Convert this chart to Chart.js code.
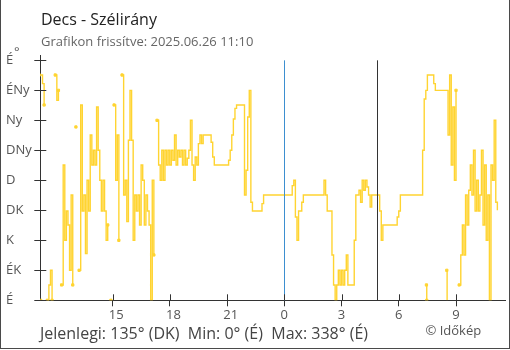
<!DOCTYPE html>
<html>
<head>
<meta charset="utf-8">
<script src="https://cdn.jsdelivr.net/npm/chart.js@4.4.1/dist/chart.umd.min.js"></script>
<style>
  html, body { margin: 0; padding: 0; background: #fff; }
  #wrap { position: relative; width: 510px; height: 350px; overflow: hidden; font-family: "Open Sans", sans-serif; }
  #frame { position: absolute; left: 0; top: 0; width: 508px; height: 348px; border: 1px solid #4a4a4a; border-top: none; }
  canvas { position: absolute; left: 0; top: 0; }
  .t { position: absolute; white-space: pre; line-height: 1; }
</style>
</head>
<body>
<div id="wrap">
  <div id="frame"></div>
  <canvas id="c" width="510" height="350"></canvas>
  <div class="t" style="left:41px; top:10.8px; font-size:16px; color:#222;">Decs - Szélirány</div>
  <div class="t" style="left:41px; top:34.5px; font-size:13px; color:#666;">Grafikon frissítve: 2025.06.26 11:10</div>
  <div class="t" style="left:14px; top:45px; font-size:13px; color:#555;">°</div>
  <div class="t" style="left:40px; top:324.8px; font-size:16px; color:#444;">Jelenlegi: 135° (DK)  Min: 0° (É)  Max: 338° (É)</div>
  <div class="t" style="left:425.5px; top:323.5px; font-size:13px; color:#555;">© Időkép</div>
</div>
<script>
// Wind direction readings (degrees), one every 5 minutes from 2025.06.25 11:10
// (minutes are counted from midnight, so the first reading is at -770).
const startMinute = -770;
const stepMinutes = 5;
const directions = [
  338, 338, 325, 293, null, 0, 23, 45, 0, null,
  338, 300, 315, null, 23, 203, 90, 134, 113, 45,
  158, 23, null, 260, null, 45, 293, 134, 158, 70,
  180, 134, 248, 203, 225, 203, 290, 225, 180, 134,
  180, 134, 90, 113, null, 0, null, 293, 180, 248,
  90, null, 338, 158, 180, 118, 240, 315, 240, 90,
  158, 134, 158, 113, 203, 180, 113, 158, 134, 113,
  0, 180, 68, null, 270, 203, 180, 225, 180, 225,
  203, 225, 203, 225, 210, 248, 203, 225, 215, 225,
  203, 225, 203, 213, 225, 270, 203, 180, 215, 203,
  235, 248, 235, 248, 248, 248, 248, 248, 237, 215,
  203, 203, 203, 203, 203, 203, 203, 203, 203, 210,
  225, 248, 272, 288, 293, 293, 293, 293, 293, 158,
  195, 275, 315, 147, 134, 134, 134, 134, 134, 134,
  145, 158, 158, 158, 158, 158, 158, 158, 158, 158,
  158, 158, 158, 158, 158, 158, 158, 158, 158, 172,
  180, 125, 90, 134, 134, 147, 158, 158, 158, 158,
  158, 158, 158, 158, 158, 158, 158, 158, 158, 180,
  158, 134, 134, 134, 68, 23, 0, 23, 45, 23,
  45, 23, 45, 68, 23, 23, 23, 23, 90, 158,
  158, 165, 147, 180, 165, 180, 170, 158, 140, 158,
  158, 158, 158, 158, 134, 90, 113, 113, 113, 113,
  113, 113, 113, 113, 113, 125, 134, 158, 158, 158,
  158, 158, 158, 158, 158, 158, 158, 158, 158, 158,
  158, 225, 302, 315, 338, 338, 338, 338, 325, 315,
  315, 315, 315, 315, 315, 315, 315, 248, 338, 203,
  290, 180, 315, null, 23, 68, 113, 68, 158, 113,
  165, 203, 158, 225, 134, 180, 134, 158, 225, 113,
  203, 90, 158, 0, 203, 180, 270, 147, 135
];

// Short readings just past north, drawn on their own
const northTimes = [-766, -765, 447, 448, 449, 511, 512];
const northDirs  = [0, null, 23, 0, null, 45, 0];

const hourTicks  = [-540, -360, -180, 0, 180, 360, 540];
const hourLabels = ['15', '18', '21', '0', '3', '6', '9'];
const compassTicks  = [0, 45, 90, 135, 180, 225, 270, 315, 360];
const compassLabels = ['É', 'ÉK', 'K', 'DK', 'D', 'DNy', 'Ny', 'ÉNy', 'É'];

const midnightMinute = 0;
const sunriseMinute = 291;

const yellow = '#ffd431';

const mainPoints = directions.map((d, i) => ({ x: startMinute + stepMinutes * i, y: d }));
const northPoints = northDirs.map((d, i) => ({ x: northTimes[i], y: d }));

// squares only where a run of readings starts or stops
function edgeRadius(ctx) {
  const data = ctx.dataset.data;
  const i = ctx.dataIndex;
  if (data[i].y === null) return 0;
  const prev = i > 0 ? data[i - 1].y : null;
  const next = i < data.length - 1 ? data[i + 1].y : 0;
  return (prev === null || next === null) ? 1.6 : 0;
}

const lineStyle = {
  borderColor: yellow,
  backgroundColor: yellow,
  borderWidth: 1.4,
  stepped: true,
  spanGaps: false,
  fill: false,
  pointStyle: 'rect',
  pointRadius: edgeRadius,
  pointBorderWidth: 1,
  pointBackgroundColor: yellow,
  pointBorderColor: yellow
};

const axisFont = { family: '"Open Sans", sans-serif', size: 13 };

const markers = {
  id: 'markers',
  afterDatasetsDraw(chart) {
    const { ctx, chartArea: a, scales: { x, y } } = chart;
    const yTop = y.getPixelForValue(360);
    const yBot = y.getPixelForValue(0);
    ctx.save();
    ctx.lineWidth = 1;
    // midnight
    let px = Math.round(x.getPixelForValue(midnightMinute)) + 0.5;
    ctx.strokeStyle = '#3d8fd0';
    ctx.beginPath(); ctx.moveTo(px, yTop); ctx.lineTo(px, yBot); ctx.stroke();
    // sunrise
    px = Math.round(x.getPixelForValue(sunriseMinute)) + 0.5;
    ctx.strokeStyle = '#333';
    ctx.beginPath(); ctx.moveTo(px, yTop); ctx.lineTo(px, yBot); ctx.stroke();
    // tick marks reaching inside the plot
    ctx.strokeStyle = '#333';
    ctx.beginPath();
    compassTicks.forEach(v => {
      const py = Math.round(y.getPixelForValue(v)) + 0.5;
      ctx.moveTo(a.left, py); ctx.lineTo(a.left + 6, py);
    });
    hourTicks.forEach(v => {
      const qx = Math.round(x.getPixelForValue(v)) + 0.5;
      ctx.moveTo(qx, a.bottom); ctx.lineTo(qx, a.bottom - 6);
    });
    ctx.stroke();
    ctx.restore();
  }
};

new Chart(document.getElementById('c'), {
  type: 'line',
  data: {
    datasets: [
      Object.assign({ data: mainPoints }, lineStyle),
      Object.assign({ data: northPoints }, lineStyle)
    ]
  },
  options: {
    responsive: false,
    animation: false,
    devicePixelRatio: 1,
    layout: { padding: { left: 6, right: 2, top: 55, bottom: 0 } },
    plugins: { legend: { display: false }, tooltip: { enabled: false }, title: { display: false } },
    scales: {
      x: {
        type: 'linear',
        min: -767,
        max: 694,
        afterBuildTicks: s => { s.ticks = hourTicks.map(v => ({ value: v })); },
        afterFit: s => { s.height = 49.7; },
        grid: { drawOnChartArea: false, drawTicks: true, tickLength: 6, color: '#333', lineWidth: 1 },
        border: { color: '#333', width: 1 },
        ticks: {
          padding: 1,
          color: '#555',
          font: axisFont,
          maxRotation: 0,
          autoSkip: false,
          callback: (v, i) => (hourLabels[i].length > 1 ? '\u2007' : '') + hourLabels[i]
        }
      },
      y: {
        type: 'linear',
        min: 0,
        max: 368,
        afterBuildTicks: s => { s.ticks = compassTicks.map(v => ({ value: v })); },
        afterFit: s => { s.width = 34.3; },
        grid: { drawOnChartArea: false, drawTicks: true, tickLength: 6, color: '#333', lineWidth: 1 },
        border: { color: '#333', width: 1 },
        ticks: {
          crossAlign: 'far',
          padding: 2,
          color: '#555',
          font: axisFont,
          autoSkip: false,
          callback: (v, i) => compassLabels[i]
        }
      }
    }
  },
  plugins: [markers]
});
</script>
</body>
</html>
